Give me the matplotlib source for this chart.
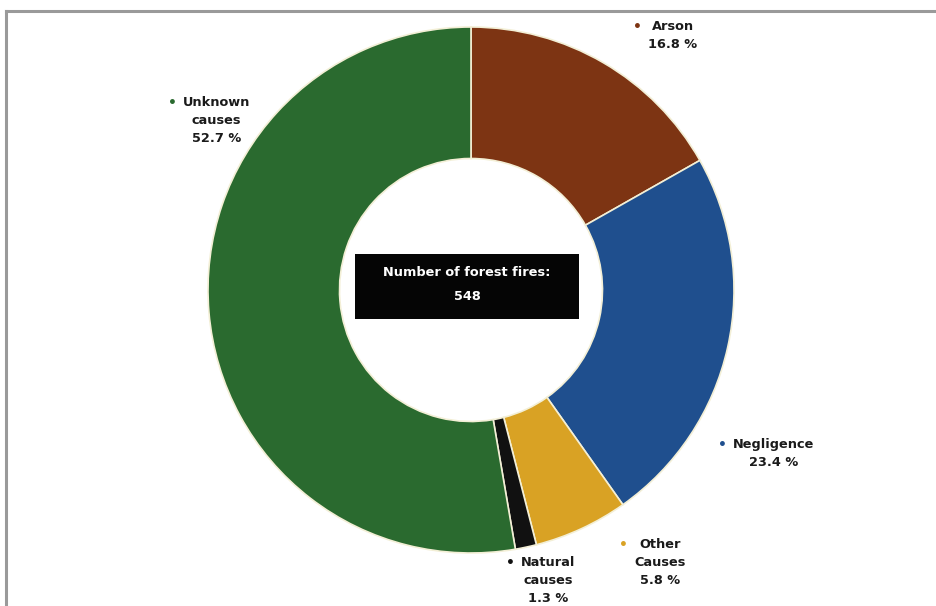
import matplotlib.pyplot as plt
from matplotlib.lines import Line2D
from matplotlib.patches import Rectangle

# Forest fire causes, clockwise from 12 o'clock
causes = ["Arson", "Negligence", "Other\nCauses", "Natural\ncauses", "Unknown\ncauses"]
shares = [16.8, 23.4, 5.8, 1.3, 52.7]
colors = ["#7d3413", "#1f4f8e", "#d9a224", "#111111", "#2a6a2f"]
total_fires = 548

# bullet position per slice label, pixels from top-left
label_pos = [(637, 27), (722, 445), (623, 545), (510, 563), (172, 103)]

W, H = 937, 606
fig = plt.figure(figsize=(W / 100, H / 100), dpi=100)
ax = fig.add_axes([0, 0, 1, 1])

cx, cy, r = 471, H - 290, 263
ax.pie(shares, colors=colors, startangle=90, counterclock=False,
       center=(cx, cy), radius=r, frame=True,
       wedgeprops=dict(width=r * 0.5, edgecolor="#f3efd6", linewidth=1.2))
ax.set_xlim(0, W)
ax.set_ylim(0, H)
ax.set_aspect("equal")
ax.axis("off")

font = dict(family="DejaVu Sans", fontsize=9.3, fontweight="bold", color="#1a1a1a")
for name, val, col, (px, py) in zip(causes, shares, colors, label_pos):
    ax.text(px, H - py, "\u2022", ha="center", va="center", color=col,
            fontsize=10, fontweight="bold")
    label = name + f"\n{val} %"
    ax.text(px + 11, H - py + 7, label, ha="left", va="top",
            multialignment="center", linespacing=1.5, **font)

# centre box with the total count
ax.add_patch(Rectangle((355, H - 319), 224, 65, facecolor="#050505", edgecolor="none"))
ax.text(467, H - 273, "Number of forest fires:", ha="center", va="center",
        color="white", family="DejaVu Sans", fontsize=9.3, fontweight="bold")
ax.text(467, H - 297, str(total_fires), ha="center", va="center",
        color="white", family="DejaVu Sans", fontsize=9.3, fontweight="bold")

# outer frame (top and left edges)
fig.add_artist(Line2D([6.5 / W, 1], [1 - 11 / H, 1 - 11 / H], color="#9a9a9a", linewidth=2.2))
fig.add_artist(Line2D([6.5 / W, 6.5 / W], [0, 1 - 11 / H], color="#9a9a9a", linewidth=2.2))

fig.savefig("out.png", dpi=100, facecolor="white")
